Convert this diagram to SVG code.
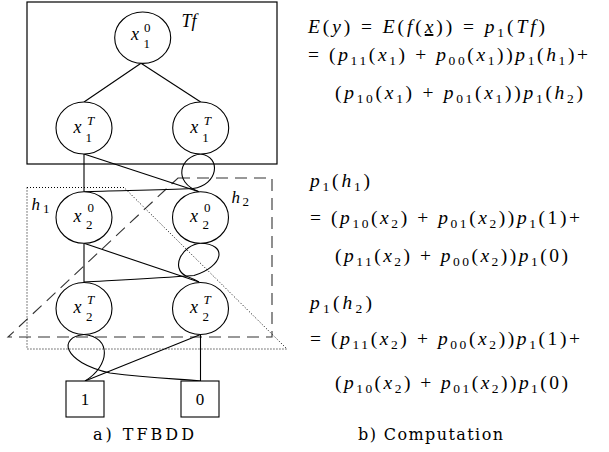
<svg xmlns="http://www.w3.org/2000/svg" width="609" height="452" viewBox="0 0 609 452">
<style>
.bg{fill:#fff}
.frame{fill:none;stroke:#000;stroke-width:1.2}
.dash{fill:none;stroke:#333;stroke-width:1.1;stroke-dasharray:12 7}
.dot{fill:none;stroke:#000;stroke-width:1;stroke-dasharray:1 2}
.edge{fill:none;stroke:#000;stroke-width:1.1}
.node{fill:#fff;stroke:#000;stroke-width:1.1}
.t{font-family:'Liberation Serif',serif;fill:#000}
.nx{font-size:18px;font-style:italic}
.ns{font-size:13px}
.nsi{font-size:13px;font-style:italic}
.m{font-family:'Liberation Serif',serif;font-size:19.5px;fill:#000}
.i{font-style:italic}
.s{font-size:13.5px}
.u{text-decoration:underline}
</style>
<rect class="bg" width="609" height="452"/>
<g id="regions">
<rect class="frame" x="27" y="2" width="250" height="162"/>
<path class="dash" d="M178,178 L272,178 L272,337 L8,337 Z"/>
<path class="dot" d="M27,187.5 L124,187.5 L287,349 L27,349 Z"/>
</g>
<g id="connectors">
<path class="edge" d="M141,63.3 L84,102"/>
<path class="edge" d="M141,63.3 L200.7,102"/>
<path class="edge" d="M84,154 L84,191.7"/>
<path class="edge" d="M84,154 L199,191.7"/>
<path class="edge" d="M200.7,154 C180,156 172,182 199,191.7"/>
<path class="edge" d="M200.7,154 C222,157 218,185 193,188.5 C160,190 120,190.5 84,191.7"/>
<path class="edge" d="M84,243.3 L84,282"/>
<path class="edge" d="M84,243.3 L199,282"/>
<path class="edge" d="M200.5,243.3 C228,244 224,266 194,275.5 C160,278 120,280 84,282"/>
<path class="edge" d="M200.5,243.3 C182,245 170,268 186,276 C191,278 196,280 199,282"/>
<path class="edge" d="M84,334.5 C112,337 110,366 85,381"/>
<path class="edge" d="M84,334.5 C58,337 62,362 110,373 C150,378 180,379 200.5,381"/>
<path class="edge" d="M200.5,334.5 L85,381"/>
<path class="edge" d="M200.5,334.5 L200.5,381"/>
</g>
<g id="n_x1_0">
<ellipse class="node" cx="142.7" cy="37.7" rx="28" ry="25.7"/>
<text class="t nx" x="131" y="40">x</text><text class="t ns" x="144" y="31.5">0</text><text class="t ns" x="143.5" y="47.5">1</text>
</g>
<g id="n_x1_T_left">
<ellipse class="node" cx="84" cy="128" rx="28" ry="26"/>
<text class="t nx" x="73.5" y="133">x</text><text class="t nsi" x="87" y="125">T</text><text class="t ns" x="85.5" y="142">1</text>
</g>
<g id="n_x1_T_right">
<ellipse class="node" cx="200.7" cy="128" rx="28" ry="26"/>
<text class="t nx" x="190.2" y="133">x</text><text class="t nsi" x="203.7" y="125">T</text><text class="t ns" x="202.2" y="142">1</text>
</g>
<g id="n_x2_0_left">
<ellipse class="node" cx="84" cy="217.5" rx="28" ry="25.8"/>
<text class="t nx" x="73.5" y="222">x</text><text class="t ns" x="87.5" y="212">0</text><text class="t ns" x="86" y="229">2</text>
</g>
<g id="n_x2_0_right">
<ellipse class="node" cx="200.5" cy="217.5" rx="28" ry="25.8"/>
<text class="t nx" x="190" y="222">x</text><text class="t ns" x="204" y="212">0</text><text class="t ns" x="202.5" y="229">2</text>
</g>
<g id="n_x2_T_left">
<ellipse class="node" cx="84" cy="308.5" rx="28" ry="26"/>
<text class="t nx" x="73.5" y="313">x</text><text class="t nsi" x="87" y="304">T</text><text class="t ns" x="86" y="321">2</text>
</g>
<g id="n_x2_T_right">
<ellipse class="node" cx="200.5" cy="308.5" rx="28" ry="26"/>
<text class="t nx" x="190" y="313">x</text><text class="t nsi" x="203.5" y="304">T</text><text class="t ns" x="202.5" y="321">2</text>
</g>
<g id="n_one">
<rect class="node" x="66" y="381" width="38" height="36"/>
<text class="t" x="85" y="405" font-size="17" text-anchor="middle">1</text>
</g>
<g id="n_zero">
<rect class="node" x="181" y="381" width="38" height="36"/>
<text class="t" x="200" y="405" font-size="17" text-anchor="middle">0</text>
</g>
<g id="labels">
<text class="t i" x="181.5" y="26.5" font-size="18">Tf</text>
<text class="t i" x="31.5" y="210" font-size="17">h</text><text class="t" x="43" y="213" font-size="13">1</text>
<text class="t i" x="231.5" y="203" font-size="17">h</text><text class="t" x="242.5" y="206" font-size="13">2</text>
<text x="93" y="440" font-family="DejaVu Serif, serif" font-size="16" textLength="101" lengthAdjust="spacing">a) TFBDD</text>
<text x="358" y="440" font-family="DejaVu Serif, serif" font-size="16" textLength="145" lengthAdjust="spacing">b) Computation</text>
</g>
<g id="formulas">
<text class="m" x="308" y="33" textLength="237" lengthAdjust="spacing"><tspan class="i">E</tspan>(<tspan class="i">y</tspan>) = <tspan class="i">E</tspan>(<tspan class="i">f</tspan>(<tspan class="i u">x</tspan>)) = <tspan class="i">p</tspan><tspan class="s" dy="4">1</tspan><tspan dy="-4">(</tspan><tspan class="i">Tf</tspan>)</text>
<text class="m" x="308" y="61" textLength="280" lengthAdjust="spacing">= (<tspan class="i">p</tspan><tspan class="s" dy="4">11</tspan><tspan dy="-4">(</tspan><tspan class="i">x</tspan><tspan class="s" dy="4">1</tspan><tspan dy="-4">) + </tspan><tspan class="i">p</tspan><tspan class="s" dy="4">00</tspan><tspan dy="-4">(</tspan><tspan class="i">x</tspan><tspan class="s" dy="4">1</tspan><tspan dy="-4">))</tspan><tspan class="i">p</tspan><tspan class="s" dy="4">1</tspan><tspan dy="-4">(</tspan><tspan class="i">h</tspan><tspan class="s" dy="4">1</tspan><tspan dy="-4">)+</tspan></text>
<text class="m" x="335" y="99" textLength="248" lengthAdjust="spacing">(<tspan class="i">p</tspan><tspan class="s" dy="4">10</tspan><tspan dy="-4">(</tspan><tspan class="i">x</tspan><tspan class="s" dy="4">1</tspan><tspan dy="-4">) + </tspan><tspan class="i">p</tspan><tspan class="s" dy="4">01</tspan><tspan dy="-4">(</tspan><tspan class="i">x</tspan><tspan class="s" dy="4">1</tspan><tspan dy="-4">))</tspan><tspan class="i">p</tspan><tspan class="s" dy="4">1</tspan><tspan dy="-4">(</tspan><tspan class="i">h</tspan><tspan class="s" dy="4">2</tspan><tspan dy="-4">)</tspan></text>
<text class="m" x="310" y="187" textLength="60" lengthAdjust="spacing"><tspan class="i">p</tspan><tspan class="s" dy="4">1</tspan><tspan dy="-4">(</tspan><tspan class="i">h</tspan><tspan class="s" dy="4">1</tspan><tspan dy="-4">)</tspan></text>
<text class="m" x="310" y="224" textLength="270" lengthAdjust="spacing">= (<tspan class="i">p</tspan><tspan class="s" dy="4">10</tspan><tspan dy="-4">(</tspan><tspan class="i">x</tspan><tspan class="s" dy="4">2</tspan><tspan dy="-4">) + </tspan><tspan class="i">p</tspan><tspan class="s" dy="4">01</tspan><tspan dy="-4">(</tspan><tspan class="i">x</tspan><tspan class="s" dy="4">2</tspan><tspan dy="-4">))</tspan><tspan class="i">p</tspan><tspan class="s" dy="4">1</tspan><tspan dy="-4">(1)+</tspan></text>
<text class="m" x="335" y="262" textLength="233" lengthAdjust="spacing">(<tspan class="i">p</tspan><tspan class="s" dy="4">11</tspan><tspan dy="-4">(</tspan><tspan class="i">x</tspan><tspan class="s" dy="4">2</tspan><tspan dy="-4">) + </tspan><tspan class="i">p</tspan><tspan class="s" dy="4">00</tspan><tspan dy="-4">(</tspan><tspan class="i">x</tspan><tspan class="s" dy="4">2</tspan><tspan dy="-4">))</tspan><tspan class="i">p</tspan><tspan class="s" dy="4">1</tspan><tspan dy="-4">(0)</tspan></text>
<text class="m" x="310" y="309" textLength="62" lengthAdjust="spacing"><tspan class="i">p</tspan><tspan class="s" dy="4">1</tspan><tspan dy="-4">(</tspan><tspan class="i">h</tspan><tspan class="s" dy="4">2</tspan><tspan dy="-4">)</tspan></text>
<text class="m" x="310" y="345" textLength="270" lengthAdjust="spacing">= (<tspan class="i">p</tspan><tspan class="s" dy="4">11</tspan><tspan dy="-4">(</tspan><tspan class="i">x</tspan><tspan class="s" dy="4">2</tspan><tspan dy="-4">) + </tspan><tspan class="i">p</tspan><tspan class="s" dy="4">00</tspan><tspan dy="-4">(</tspan><tspan class="i">x</tspan><tspan class="s" dy="4">2</tspan><tspan dy="-4">))</tspan><tspan class="i">p</tspan><tspan class="s" dy="4">1</tspan><tspan dy="-4">(1)+</tspan></text>
<text class="m" x="335" y="389" textLength="233" lengthAdjust="spacing">(<tspan class="i">p</tspan><tspan class="s" dy="4">10</tspan><tspan dy="-4">(</tspan><tspan class="i">x</tspan><tspan class="s" dy="4">2</tspan><tspan dy="-4">) + </tspan><tspan class="i">p</tspan><tspan class="s" dy="4">01</tspan><tspan dy="-4">(</tspan><tspan class="i">x</tspan><tspan class="s" dy="4">2</tspan><tspan dy="-4">))</tspan><tspan class="i">p</tspan><tspan class="s" dy="4">1</tspan><tspan dy="-4">(0)</tspan></text>
</g>
</svg>
